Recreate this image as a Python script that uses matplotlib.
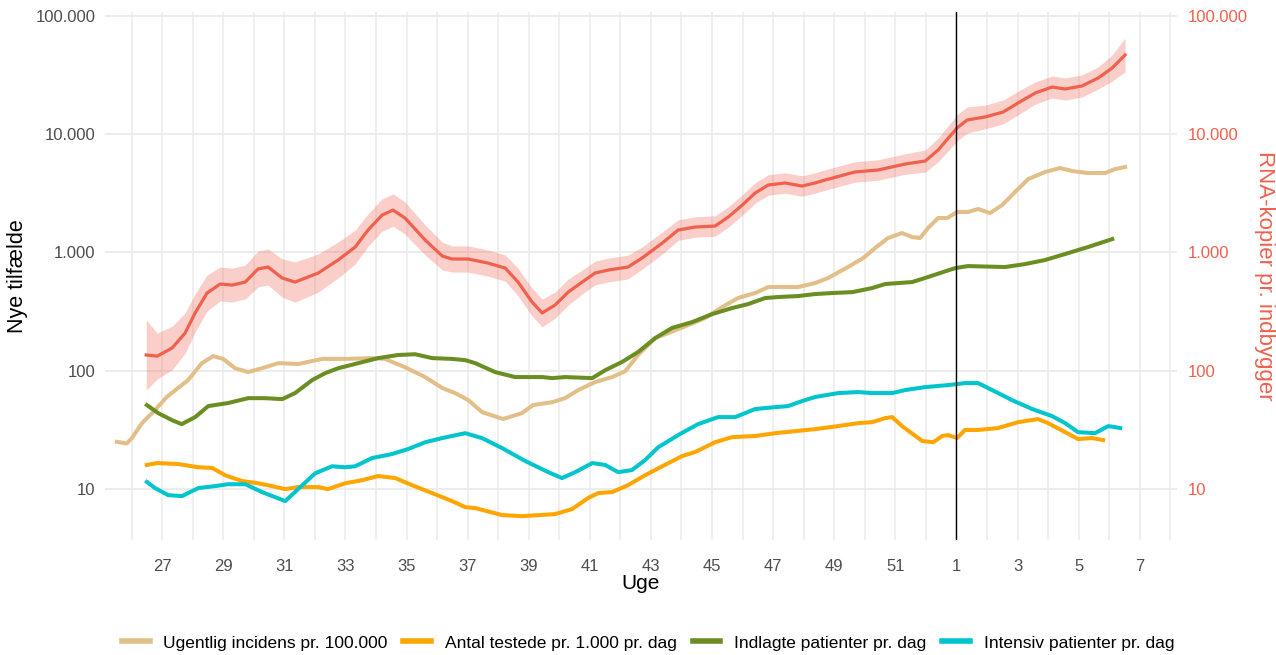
import matplotlib
matplotlib.use("Agg")
import matplotlib.pyplot as plt
from matplotlib.ticker import FixedLocator, FuncFormatter, NullLocator

plt.rcParams["font.family"] = ["Liberation Sans", "DejaVu Sans"]

# x = weeks after start of week 27 (2021); week 1 (2022) = 26
rna_uge = [-0.52, -0.16, 0.33, 0.75, 1.08, 1.47, 1.90, 2.29, 2.72, 3.14, 3.47, 3.93, 4.35, 5.11, 5.76,
           6.32, 6.74, 7.20, 7.56, 7.95, 8.61, 9.17, 9.49, 10.02, 10.67, 11.23, 11.65, 12.11, 12.44,
           12.86, 13.29, 13.75, 14.17, 14.60, 15.25, 15.71, 16.37, 16.89, 17.45, 18.10, 18.53, 18.99,
           19.41, 19.84, 20.39, 20.95, 21.37, 21.70, 22.68, 23.44, 24.32, 24.98, 25.40, 26.02, 26.35,
           26.94, 27.53, 28.02, 28.58, 29.13, 29.56, 30.11, 30.64, 31.10, 31.52]
rna = [136, 133, 156, 208, 308, 454, 541, 530, 562, 725, 753, 608, 562, 670, 863,
       1112, 1546, 2070, 2281, 1954, 1273, 933, 880, 880, 813, 738, 562, 381, 308,
       359, 462, 562, 670, 710, 753, 897, 1200, 1546, 1640, 1672, 1991, 2516,
       3178, 3715, 3862, 3642, 3862, 4094, 4786, 4977, 5586, 5925, 7341, 11270, 13160,
       13960, 15380, 18330, 22250, 25000, 24050, 25520, 29800, 36220, 46660]
# multiplicative half-width of the confidence band
rna_ci = [1.98, 1.56, 1.53, 1.48, 1.45, 1.42, 1.39, 1.39, 1.39, 1.42, 1.42, 1.45, 1.48, 1.45, 1.42,
          1.39, 1.37, 1.37, 1.37, 1.37, 1.34, 1.31, 1.29, 1.29, 1.29, 1.29, 1.31, 1.31, 1.31,
          1.29, 1.29, 1.26, 1.26, 1.26, 1.26, 1.24, 1.24, 1.22, 1.22, 1.22, 1.22, 1.22,
          1.22, 1.22, 1.22, 1.22, 1.22, 1.22, 1.22, 1.22, 1.22, 1.24, 1.26, 1.29, 1.29,
          1.26, 1.26, 1.26, 1.24, 1.24, 1.24, 1.24, 1.24, 1.29, 1.39]

inc_uge = [-1.48, -1.16, -0.99, -0.66, -0.23, 0.15, 0.52, 0.85, 1.30, 1.67, 2.00, 2.39, 2.82, 3.37,
           3.80, 4.45, 5.24, 5.99, 6.87, 7.30, 7.95, 8.61, 9.17, 9.59, 10.02, 10.47, 11.16, 11.78,
           12.14, 12.77, 13.19, 13.62, 14.17, 14.73, 15.16, 15.58, 16.14, 16.56, 17.22, 17.77, 18.33,
           18.85, 19.41, 19.84, 20.39, 20.82, 21.37, 21.80, 22.45, 22.95, 23.34, 23.76, 24.22, 24.55,
           24.81, 25.07, 25.40, 25.70, 26.02, 26.38, 26.71, 27.10, 27.50, 27.92, 28.35, 28.90, 29.39,
           29.79, 30.31, 30.87, 31.19, 31.52]
incidens = [25.1, 24.3, 27.0, 36.1, 46.6, 60.0, 71.5, 83.4, 116, 133, 126, 105, 97.5, 107,
            116, 114, 126, 126, 128, 126, 107, 88.5, 71.5, 64.8, 56.5, 44.8, 39.1, 43.9,
            51.3, 54.3, 58.7, 68.7, 80.2, 88.5, 99.3, 136, 189, 208, 243, 279, 345,
            412, 454, 510, 510, 510, 551, 608, 753, 897, 1090, 1324, 1459, 1349,
            1324, 1608, 1954, 1954, 2198, 2198, 2329, 2153, 2516, 3243, 4170, 4786, 5168,
            4875, 4690, 4690, 5070, 5272]

test_uge = [-0.50, -0.17, 0.52, 1.18, 1.64, 2.06, 2.62, 3.14, 3.60, 4.03, 4.45, 5.11, 5.43, 5.99,
            6.55, 7.07, 7.63, 8.18, 8.84, 9.49, 9.92, 10.25, 11.13, 11.78, 12.86, 13.42, 13.94,
            14.27, 14.73, 15.25, 15.81, 16.37, 17.02, 17.45, 18.10, 18.66, 19.41, 20.07, 20.72,
            21.37, 22.13, 22.78, 23.24, 23.67, 23.90, 24.22, 24.88, 25.24, 25.53, 25.73, 26.02,
            26.28, 26.71, 27.36, 28.02, 28.67, 29.00, 29.56, 29.98, 30.44, 30.80]
testede = [16.0, 16.6, 16.3, 15.3, 15.1, 13.1, 11.7, 11.2, 10.6, 10.0, 10.4, 10.4, 10.0, 11.2,
           11.9, 12.9, 12.4, 10.8, 9.25, 7.92, 7.05, 6.91, 6.03, 5.91, 6.15, 6.78, 8.40,
           9.25, 9.44, 10.8, 13.1, 15.6, 19.0, 20.6, 24.9, 27.5, 28.1, 29.7, 30.9,
           32.1, 34.1, 36.1, 36.8, 39.8, 40.6, 34.1, 25.5, 24.9, 28.1, 28.6, 27.0,
           31.6, 31.6, 32.8, 36.8, 39.1, 36.1, 30.3, 26.5, 27.0, 26.0]

indl_uge = [-0.50, -0.13, 0.32, 0.64, 1.08, 1.51, 2.16, 2.82, 3.37, 3.93, 4.35, 4.91, 5.34, 5.76,
            6.42, 7.07, 7.73, 8.28, 8.84, 9.49, 9.92, 10.25, 10.90, 11.55, 12.44, 12.77, 13.19,
            14.08, 14.50, 15.06, 15.58, 16.14, 16.69, 17.35, 18.00, 18.66, 19.18, 19.74, 20.16,
            20.82, 21.37, 21.93, 22.59, 23.24, 23.67, 24.55, 25.07, 25.96, 26.38, 27.59, 28.25,
            28.90, 29.66, 30.31, 31.10]
indlagte = [51.3, 43.9, 38.3, 35.4, 40.6, 50.3, 53.4, 58.7, 58.7, 57.6, 64.8, 83.4, 95.6, 105,
            116, 128, 136, 138, 128, 126, 123, 116, 97.5, 88.5, 88.5, 86.7, 88.5,
            86.7, 101, 119, 144, 189, 230, 258, 301, 339, 366, 412, 420,
            428, 445, 454, 462, 500, 541, 562, 620, 738, 767, 753, 798,
            863, 988, 1112, 1297]

int_uge = [-0.50, -0.23, 0.20, 0.65, 1.18, 1.73, 2.16, 2.72, 3.27, 4.03, 4.45, 5.01, 5.56, 5.99,
           6.32, 6.87, 7.53, 8.05, 8.61, 9.17, 9.92, 10.47, 11.13, 11.88, 12.64, 13.09, 13.52,
           14.08, 14.50, 14.93, 15.38, 15.81, 16.24, 16.89, 17.54, 18.20, 18.76, 19.41, 20.07,
           20.49, 20.95, 21.37, 22.13, 22.78, 23.24, 23.90, 24.32, 24.98, 25.73, 26.28, 26.71,
           27.17, 27.82, 28.48, 29.13, 29.56, 29.98, 30.54, 30.97, 31.36]
intensiv = [11.5, 10.2, 8.89, 8.73, 10.2, 10.6, 11.0, 11.0, 9.44, 7.92, 10.0, 13.6, 15.6, 15.3,
            15.6, 18.3, 19.8, 21.8, 24.9, 27.0, 29.7, 27.0, 22.2, 17.3, 13.9, 12.4, 13.9,
            16.6, 16.0, 13.9, 14.5, 17.6, 22.6, 28.6, 35.4, 40.6, 40.6, 47.5, 49.3,
            50.3, 55.5, 60.0, 64.8, 66.1, 64.8, 64.8, 68.7, 72.8, 75.7, 78.7, 78.7,
            68.7, 56.5, 47.5, 41.4, 36.1, 30.3, 29.7, 34.1, 32.8]

tick_pos = list(range(0, 33, 2))
tick_labels = ["27", "29", "31", "33", "35", "37", "39", "41", "43", "45", "47", "49", "51",
               "1", "3", "5", "7"]
y_breaks = [10, 100, 1000, 10000, 100000]

RED = "#F0604D"
GRID = "#EBEBEB"
TXT = "#4D4D4D"


def dk_fmt(v, _pos=None):
    return f"{int(round(v)):,}".replace(",", ".")


fig = plt.figure(figsize=(12.76, 6.55), dpi=100)
ax = fig.add_axes([105 / 1276, 1 - 540 / 655, 1072 / 1276, 528 / 655])

ax.set_yscale("log")
ax.set_xlim(-1.87, 33.22)
ax.set_ylim(10 ** 0.57, 10 ** 5.032)

# grid: every week vertically, decades horizontally
for w in range(-1, 34):
    ax.axvline(w, color=GRID, lw=1.1, zorder=0)
for b in y_breaks:
    ax.axhline(b, color=GRID, lw=1.3, zorder=0)

rna_lo = [v / f for v, f in zip(rna, rna_ci)]
rna_hi = [v * f for v, f in zip(rna, rna_ci)]
ax.fill_between(rna_uge, rna_lo, rna_hi, color=RED, alpha=0.3, lw=0, zorder=1)
ax.plot(rna_uge, rna, color=RED, lw=2.3, zorder=2)

l1, = ax.plot(inc_uge, incidens, color="#E2BF88", lw=2.9, zorder=3,
              label="Ugentlig incidens pr. 100.000")
l2, = ax.plot(test_uge, testede, color="#FFA500", lw=2.9, zorder=3,
              label="Antal testede pr. 1.000 pr. dag")
l3, = ax.plot(indl_uge, indlagte, color="#6B8E23", lw=2.9, zorder=3,
              label="Indlagte patienter pr. dag")
l4, = ax.plot(int_uge, intensiv, color="#00C5CD", lw=2.9, zorder=3,
              label="Intensiv patienter pr. dag")

ax.axvline(26, color="black", lw=1.0, zorder=4)

ax.xaxis.set_major_locator(FixedLocator(tick_pos))
ax.set_xticklabels(tick_labels)
ax.yaxis.set_major_locator(FixedLocator(y_breaks))
ax.yaxis.set_minor_locator(NullLocator())
ax.yaxis.set_major_formatter(FuncFormatter(dk_fmt))
ax.tick_params(axis="both", length=0, labelsize=12, colors=TXT)
ax.tick_params(axis="x", pad=14)
ax.tick_params(axis="y", pad=7)
for s in ax.spines.values():
    s.set_visible(False)

ax.set_xlabel("Uge", fontsize=15, color="black", labelpad=0)
ax.set_ylabel("Nye tilfælde", fontsize=15.5, color="black")
ax.yaxis.set_label_coords(-0.072, 0.5)

ax2 = ax.twinx()
ax2.set_yscale("log")
ax2.set_ylim(ax.get_ylim())
ax2.yaxis.set_major_locator(FixedLocator(y_breaks))
ax2.yaxis.set_minor_locator(NullLocator())
ax2.yaxis.set_major_formatter(FuncFormatter(dk_fmt))
ax2.tick_params(axis="y", length=0, labelsize=12, colors=RED, pad=8)
for s in ax2.spines.values():
    s.set_visible(False)
ax2.set_ylabel("RNA-kopier pr. indbygger", fontsize=16, color=RED, rotation=-90, va="bottom")
ax2.yaxis.set_label_coords(1.072, 0.5)

leg = fig.legend(handles=[l1, l2, l3, l4], loc="center", bbox_to_anchor=(648 / 1276, 1 - 643 / 655),
                 ncol=4, frameon=False, fontsize=12.5, handlelength=1.6, handletextpad=0.8,
                 columnspacing=0.9)
for h in leg.get_lines():
    h.set_linewidth(4)

fig.savefig("out.png", dpi=100)
